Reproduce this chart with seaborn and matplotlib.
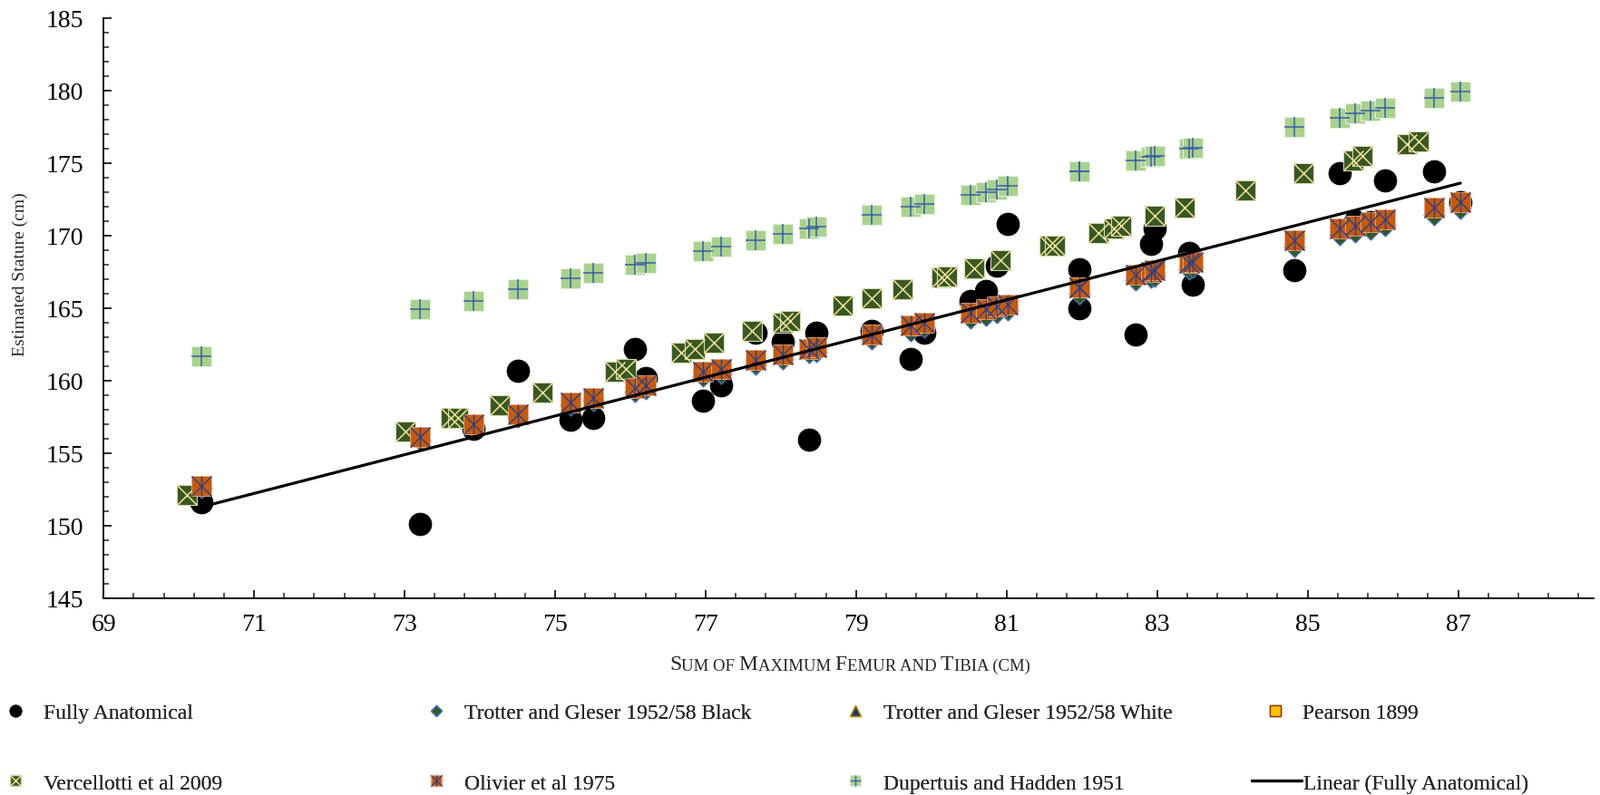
import numpy as np
import pandas as pd
import seaborn as sns
import matplotlib.pyplot as plt
from matplotlib.lines import Line2D
from matplotlib.legend_handler import HandlerTuple
from matplotlib.ticker import FixedLocator

# sum of maximum femur and tibia (cm), shared by most of the series
leg_sum = [70.30, 73.21, 73.91, 74.51, 75.21, 75.51, 76.06, 76.21, 76.96, 77.21,
           77.67, 78.02, 78.37, 78.47, 79.21, 79.72, 79.91, 80.52, 80.72, 80.87,
           81.02, 81.97, 81.97, 82.72, 82.92, 82.97, 83.42, 83.47, 84.82, 85.43,
           85.63, 85.83, 86.03, 86.68, 87.03]

fully_anatomical = [151.6, 150.1, 156.7, 160.7, 157.3, 157.4, 162.2, 160.2, 158.6, 159.7,
                    163.3, 162.7, 155.9, 163.3, 163.4, 161.5, 163.3, 165.5, 166.2, 167.9,
                    170.8, 167.7, 165.0, 163.2, 169.4, 170.5, 168.8, 166.6, 167.6, 174.3,
                    171.0, 170.9, 173.8, 174.4, 172.3]

trotter_black = [152.6, 155.9, 156.8, 157.5, 158.3, 158.6, 159.25, 159.45, 160.3, 160.5,
                 161.1, 161.5, 161.9, 162.0, 162.85, 163.45, 163.65, 164.3, 164.5, 164.7,
                 164.85, 166.0, 166.0, 166.9, 167.1, 167.2, 167.7, 167.8, 169.25, 170.05,
                 170.25, 170.45, 170.65, 171.45, 171.85]

trotter_white = [152.7, 156.0, 156.9, 157.6, 158.4, 158.7, 159.4, 159.6, 160.5, 160.7,
                 161.3, 161.7, 162.1, 162.2, 163.1, 163.7, 163.9, 164.6, 164.8, 165.0,
                 165.15, 166.3, 166.3, 167.2, 167.4, 167.5, 168.0, 168.1, 169.6, 170.4,
                 170.6, 170.8, 171.0, 171.8, 172.2]

pearson = [152.8, 156.1, 157.0, 157.7, 158.4, 158.7, 159.4, 159.6, 160.5, 160.8,
           161.3, 161.8, 162.2, 162.3, 163.2, 163.7, 163.9, 164.6, 164.9, 165.1,
           165.2, 166.3, 166.3, 167.2, 167.5, 167.6, 168.1, 168.2, 169.6, 170.4,
           170.6, 170.8, 171.0, 171.8, 172.2]

olivier = [152.75, 156.1, 157.0, 157.7, 158.5, 158.8, 159.5, 159.7, 160.6, 160.8,
           161.4, 161.8, 162.2, 162.3, 163.2, 163.8, 164.0, 164.7, 164.9, 165.1,
           165.25, 166.4, 166.4, 167.3, 167.5, 167.6, 168.1, 168.2, 169.7, 170.5,
           170.7, 170.9, 171.1, 171.9, 172.3]

dupertuis = [161.7, 164.9, 165.5, 166.3, 167.06, 167.4, 167.96, 168.1, 168.9, 169.25,
             169.7, 170.1, 170.46, 170.6, 171.4, 171.96, 172.2, 172.8, 173.0, 173.2,
             173.4, 174.4, 174.4, 175.2, 175.45, 175.5, 176.0, 176.05, 177.5, 178.1,
             178.4, 178.6, 178.8, 179.5, 179.9]

# Vercellotti is plotted against its own sums
verc_sum = [70.11, 73.01, 73.61, 73.71, 74.26, 74.83, 75.80, 75.94, 76.67, 76.86,
            77.11, 77.61, 78.02, 78.12, 78.82, 79.21, 79.62, 80.13, 80.21, 80.57,
            80.92, 81.57, 81.64, 82.22, 82.42, 82.52, 82.97, 83.37, 84.17, 84.94,
            85.61, 85.73, 86.32, 86.47]
vercellotti = [152.1, 156.5, 157.4, 157.4, 158.3, 159.2, 160.6, 160.8, 161.9, 162.2,
               162.6, 163.4, 164.0, 164.1, 165.15, 165.7, 166.3, 167.1, 167.2, 167.75,
               168.3, 169.3, 169.3, 170.2, 170.5, 170.7, 171.35, 171.9, 173.1, 174.3,
               175.15, 175.5, 176.3, 176.5]

x_ticks = list(range(69, 88, 2))
y_ticks = list(range(145, 186, 5))

sns.set_style("ticks")
plt.rcParams['font.family'] = ['Liberation Serif', 'DejaVu Serif']

fig, ax = plt.subplots(figsize=(17.64, 8.78), dpi=100)
fig.subplots_adjust(left=0.0647, right=0.996, bottom=0.2475, top=0.9764)

SQ = 250


def scatter(x, y, marker, s, color, z, edge=None, lw=0.8):
    kw = dict(x=x, y=y, marker=marker, s=s, color=color, linewidth=lw,
              ax=ax, zorder=z, legend=False)
    if edge is not None:
        kw['edgecolor'] = edge
    sns.scatterplot(**kw)


scatter(leg_sum, fully_anatomical, 'o', 324, 'black', 2, edge='black', lw=0.5)
scatter(leg_sum, trotter_black, 'D', 138, '#375623', 3, edge='#4472c4', lw=0.9)
scatter(leg_sum, trotter_white, '^', 110, '#203864', 3, edge='#bf9000', lw=0.9)
scatter(leg_sum, pearson, 's', 120, '#ffc000', 3, edge='#843c0c', lw=0.9)

# Vercellotti: dark green square with pale cross
scatter(verc_sum, vercellotti, 's', SQ, '#385723', 4, edge='#d4d8b0', lw=0.8)
scatter(verc_sum, vercellotti, 'x', SQ, '#f2e49a', 4, lw=1.1)

# Olivier: orange square with navy asterisk
scatter(leg_sum, olivier, 's', SQ, '#c55a11', 5, edge='#e8b08a', lw=0.6)
scatter(leg_sum, olivier, 'x', SQ, '#2f3f7f', 5, lw=1.0)
scatter(leg_sum, olivier, '|', SQ, '#2f3f7f', 5, lw=1.0)

# Dupertuis: light green square with blue plus
scatter(leg_sum, dupertuis, 's', SQ, '#a9d18e', 5, edge='#e2f0d9', lw=0.8)
scatter(leg_sum, dupertuis, '+', SQ, '#3a5fa8', 5, lw=1.1)

sns.regplot(x=leg_sum, y=fully_anatomical, scatter=False, ci=None, truncate=True,
            color='black', line_kws={'linewidth': 2.3, 'zorder': 10}, ax=ax)

ax.set_xlim(69, 88.8)
ax.set_ylim(145, 185)
ax.xaxis.set_major_locator(FixedLocator(x_ticks))
ax.xaxis.set_minor_locator(FixedLocator(np.round(np.arange(69, 88.7, 0.4), 1)))
ax.yaxis.set_major_locator(FixedLocator(y_ticks))
ax.yaxis.set_minor_locator(FixedLocator(list(range(145, 186))))
ax.tick_params(which='major', direction='in', length=6.5, width=1.2, labelsize=20,
               colors='black')
ax.tick_params(which='minor', direction='in', length=4.3, width=1.1)
ax.tick_params(axis='x', which='major', pad=12)
ax.tick_params(axis='y', which='major', pad=16)
for side in ['top', 'right']:
    ax.spines[side].set_visible(False)
for side in ['left', 'bottom']:
    ax.spines[side].set_linewidth(1.3)
    ax.spines[side].set_color('black')
ax.set_xlabel('')
ax.set_ylabel('')

fig.text(0.0125, 0.655, 'Estimated Stature (cm)', rotation=90, va='center', ha='center',
         fontsize=14)

# small caps x label, built from pieces
pieces = [('S', 17), ('UM OF ', 13.5), ('M', 17), ('AXIMUM ', 13.5), ('F', 17),
          ('EMUR AND ', 13.5), ('T', 17), ('IBIA (CM)', 13.5)]
first = fig.text(0, 0.153, pieces[0][0], fontsize=pieces[0][1], va='bottom', ha='left')
prev = first
for txt, fs in pieces[1:]:
    prev = ax.annotate(txt, xy=(1, 0), xycoords=prev, va='bottom', ha='left',
                       fontsize=fs, annotation_clip=False)
fig.canvas.draw()
rend = fig.canvas.get_renderer()
w = (prev.get_window_extent(rend).x1 - first.get_window_extent(rend).x0) / fig.bbox.width
first.set_x(0.531 - w / 2)


# legend, one entry at a time so each column sits where the original has it
def proxy(**kw):
    return Line2D([], [], linestyle='none', **kw)


h_full = proxy(marker='o', markersize=9, color='black')
h_tb = proxy(marker='D', markersize=6.5, markerfacecolor='#375623', markeredgecolor='#4472c4')
h_tw = proxy(marker='^', markersize=9, markerfacecolor='#203864', markeredgecolor='#bf9000')
h_pe = proxy(marker='s', markersize=8, markerfacecolor='#ffc000', markeredgecolor='#843c0c')
h_ve = (proxy(marker='s', markersize=8, markerfacecolor='#385723', markeredgecolor='#d4d8b0'),
        proxy(marker='x', markersize=8, markeredgecolor='#f2e49a', markeredgewidth=1))
h_ol = (proxy(marker='s', markersize=8, markerfacecolor='#c55a11', markeredgecolor='#e8b08a'),
        proxy(marker='x', markersize=8, markeredgecolor='#2f3f7f', markeredgewidth=0.9),
        proxy(marker='|', markersize=8, markeredgecolor='#2f3f7f', markeredgewidth=0.9))
h_du = (proxy(marker='s', markersize=8, markerfacecolor='#a9d18e', markeredgecolor='#e2f0d9'),
        proxy(marker='+', markersize=8, markeredgecolor='#3a5fa8', markeredgewidth=1.0))
h_lin = Line2D([], [], color='black', linewidth=2.3)

entries = [
    (h_full, 'Fully Anatomical', 5, 787, 1.0, 0.8),
    (h_tb, 'Trotter and Gleser 1952/58 Black', 469, 787, 1.0, 0.8),
    (h_tw, 'Trotter and Gleser 1952/58 White', 931, 787, 1.0, 0.8),
    (h_pe, 'Pearson 1899', 1394, 787, 1.0, 0.8),
    (h_ve, 'Vercellotti et al 2009', 5, 865, 1.0, 0.8),
    (h_ol, 'Olivier et al 1975', 469, 865, 1.0, 0.8),
    (h_du, 'Dupertuis and Hadden 1951', 931, 865, 1.0, 0.8),
    (h_lin, 'Linear (Fully Anatomical)', 1380, 865, 2.32, 0.1),
]
for h, label, px, py, hl, tp in entries:
    leg = fig.legend(handles=[h], labels=[label], loc='center left',
                     bbox_to_anchor=(px / 1764, 1 - py / 878), frameon=False,
                     fontsize=17, borderpad=0, borderaxespad=0, handlelength=hl,
                     handletextpad=tp, handler_map={tuple: HandlerTuple(ndivide=1, pad=0)})
    fig.add_artist(leg)

fig.savefig('out.png', dpi=100)
